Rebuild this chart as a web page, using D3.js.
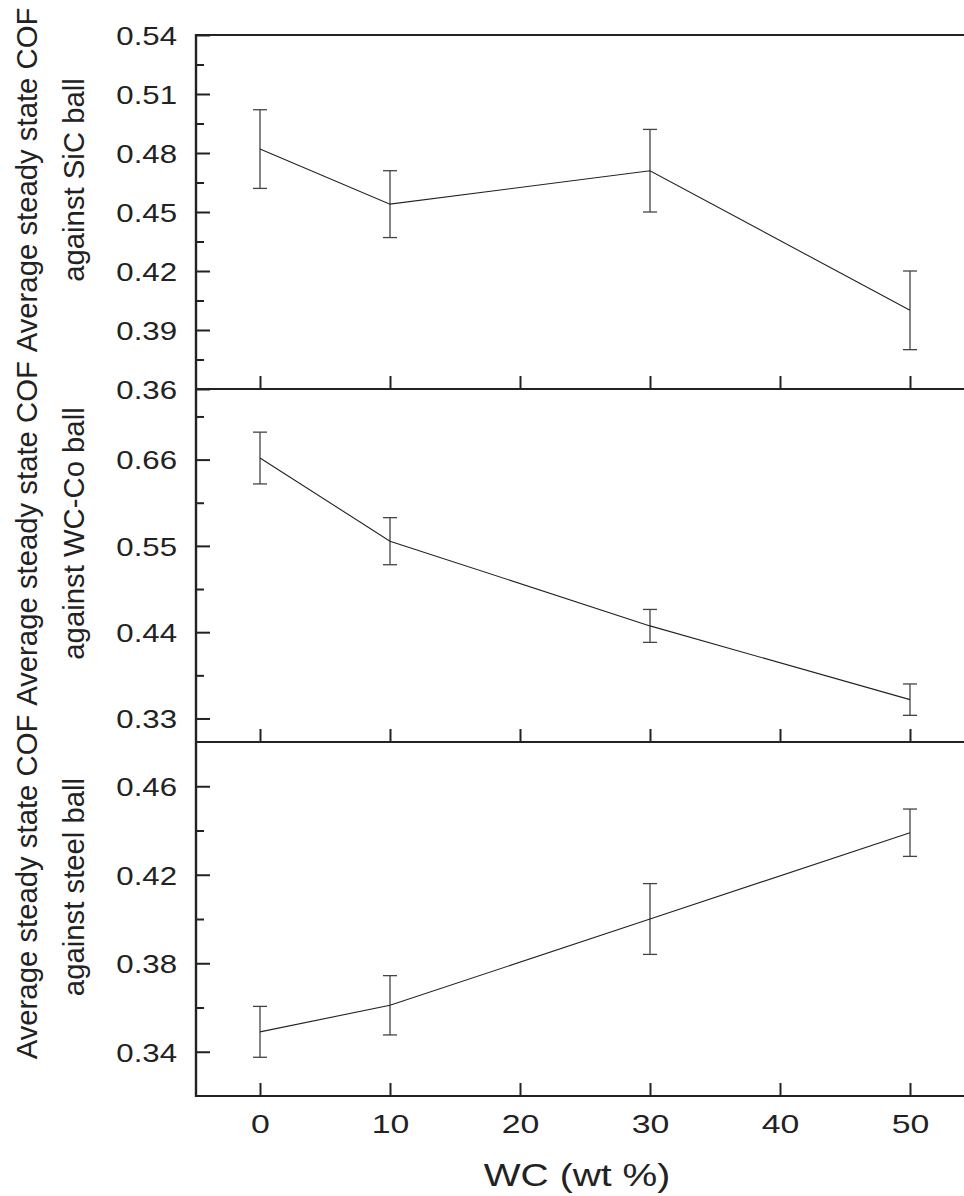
<!DOCTYPE html>
<html>
<head>
<meta charset="utf-8">
<script src="https://cdn.jsdelivr.net/npm/d3@7"></script>
<style>
  html, body { margin: 0; padding: 0; background: #ffffff; }
  svg { display: block; }
  text { font-family: "Liberation Sans", Arial, Helvetica, sans-serif; fill: #222; }
</style>
</head>
<body>
<script>
// WC content of the coatings (wt %)
const wcContent = [0, 10, 30, 50];
const xTickValues = [0, 10, 20, 30, 40, 50];

// Average steady state COF and its scatter for each counterface ball
const cofSiC = [0.482, 0.454, 0.471, 0.400];
const errSiC = [0.020, 0.017, 0.021, 0.020];

const cofWCCo = [0.662, 0.556, 0.448, 0.354];
const errWCCo = [0.033, 0.030, 0.021, 0.020];

const cofSteel = [0.349, 0.361, 0.400, 0.439];
const errSteel = [0.0115, 0.0134, 0.016, 0.0107];

// Y-axis domains, labelled ticks and minor ticks of each panel
const domainSiC = [0.36, 0.54];
const ticksSiC = [0.36, 0.39, 0.42, 0.45, 0.48, 0.51, 0.54];
const minorSiC = [0.375, 0.405, 0.435, 0.465, 0.495, 0.525];

const domainWCCo = [0.30, 0.75];
const ticksWCCo = [0.33, 0.44, 0.55, 0.66];
const minorWCCo = [0.385, 0.495, 0.605, 0.715];

const domainSteel = [0.32, 0.48];
const ticksSteel = [0.34, 0.38, 0.42, 0.46];
const minorSteel = [0.36, 0.40, 0.44];

const titleLine1 = "Average steady state COF";
const labelSiC = "against SiC ball";
const labelWCCo = "against WC-Co ball";
const labelSteel = "against steel ball";
const xTitle = "WC (wt %)";

const W = 964, H = 1196;
const left = 195, right = 975;
const panelEdges = [35, 389, 742, 1096];

const panels = [
  { values: cofSiC, errors: errSiC, domain: domainSiC, ticks: ticksSiC, minor: minorSiC, label: labelSiC, top: panelEdges[0], bottom: panelEdges[1] },
  { values: cofWCCo, errors: errWCCo, domain: domainWCCo, ticks: ticksWCCo, minor: minorWCCo, label: labelWCCo, top: panelEdges[1], bottom: panelEdges[2] },
  { values: cofSteel, errors: errSteel, domain: domainSteel, ticks: ticksSteel, minor: minorSteel, label: labelSteel, top: panelEdges[2], bottom: panelEdges[3] }
];

const svg = d3.select("body").append("svg")
  .attr("width", W).attr("height", H)
  .attr("viewBox", `0 0 ${W} ${H}`);

svg.append("rect").attr("width", W).attr("height", H).attr("fill", "#fff");

const x = d3.scaleLinear().domain([-5, 55]).range([left, right]);

const tickLabelStretch = 1.2;
const xLabelStretch = 1.3;

panels.forEach((p, i) => {
  const y = d3.scaleLinear().domain(p.domain).range([p.bottom, p.top]);
  const g = svg.append("g");
  const isLast = i === panels.length - 1;

  // minor y ticks
  const minorAxis = g.append("g")
    .attr("transform", `translate(${left + 1},0)`)
    .call(d3.axisLeft(y).tickValues(p.minor).tickSizeInner(-8).tickSizeOuter(0).tickFormat(""));
  minorAxis.select(".domain").remove();
  minorAxis.selectAll("line").attr("stroke", "#222").attr("stroke-width", 2);

  // major y ticks with labels
  const yAxis = g.append("g")
    .attr("transform", `translate(${left + 1},0)`)
    .call(d3.axisLeft(y).tickValues(p.ticks).tickSizeInner(-14).tickSizeOuter(0)
      .tickPadding(19).tickFormat(d3.format(".2f")));
  yAxis.select(".domain").remove();
  yAxis.selectAll("line").attr("stroke", "#222").attr("stroke-width", 2);
  yAxis.selectAll("text")
    .attr("font-size", 26)
    .attr("fill", "#222")
    .attr("font-family", null)
    .attr("dy", "0.36em")
    .attr("x", -19 / tickLabelStretch)
    .attr("transform", `scale(${tickLabelStretch},1)`);

  // x ticks along the bottom edge of each panel
  const xAxis = g.append("g")
    .attr("transform", `translate(0,${p.bottom})`)
    .call(d3.axisBottom(x).tickValues(xTickValues).tickSizeInner(-13).tickSizeOuter(0)
      .tickPadding(0).tickFormat(isLast ? d3.format("d") : () => ""));
  xAxis.select(".domain").remove();
  xAxis.selectAll("line").attr("stroke", "#222").attr("stroke-width", 2);
  xAxis.selectAll("text")
    .attr("font-size", 26)
    .attr("fill", "#222")
    .attr("font-family", null)
    .attr("y", 37)
    .attr("dy", 0)
    .attr("transform", `scale(${xLabelStretch},1)`);

  // bottom frame line of the panel
  g.append("line")
    .attr("x1", left).attr("x2", W + 20)
    .attr("y1", p.bottom).attr("y2", p.bottom)
    .attr("stroke", "#222").attr("stroke-width", 2.2);

  // error bars
  const capHalf = 7;
  const bars = g.append("g").selectAll("g")
    .data(wcContent.map((w, k) => ({ w, v: p.values[k], e: p.errors[k] })))
    .join("g");
  bars.append("line")
    .attr("x1", d => x(d.w)).attr("x2", d => x(d.w))
    .attr("y1", d => y(d.v + d.e)).attr("y2", d => y(d.v - d.e))
    .attr("stroke", "#444").attr("stroke-width", 1.3);
  bars.append("line")
    .attr("x1", d => x(d.w) - capHalf).attr("x2", d => x(d.w) + capHalf)
    .attr("y1", d => y(d.v + d.e)).attr("y2", d => y(d.v + d.e))
    .attr("stroke", "#444").attr("stroke-width", 1.3);
  bars.append("line")
    .attr("x1", d => x(d.w) - capHalf).attr("x2", d => x(d.w) + capHalf)
    .attr("y1", d => y(d.v - d.e)).attr("y2", d => y(d.v - d.e))
    .attr("stroke", "#444").attr("stroke-width", 1.3);

  // mean COF line
  g.append("path")
    .datum(wcContent.map((w, k) => [w, p.values[k]]))
    .attr("fill", "none")
    .attr("stroke", "#222")
    .attr("stroke-width", 1.1)
    .attr("d", d3.line().x(d => x(d[0])).y(d => y(d[1])));

  // two-line rotated y title
  const cy = (p.top + p.bottom) / 2 - 32;
  g.append("text")
    .attr("transform", `translate(37,${cy}) rotate(-90)`)
    .attr("text-anchor", "middle")
    .attr("font-size", 29.3)
    .text(titleLine1);
  g.append("text")
    .attr("transform", `translate(84,${cy}) rotate(-90)`)
    .attr("text-anchor", "middle")
    .attr("font-size", 29.3)
    .text(p.label);
});

// top frame line and left axis line
svg.append("line")
  .attr("x1", left).attr("x2", W + 20)
  .attr("y1", panelEdges[0]).attr("y2", panelEdges[0])
  .attr("stroke", "#222").attr("stroke-width", 2.2);
svg.append("line")
  .attr("x1", left + 1).attr("x2", left + 1)
  .attr("y1", panelEdges[0] - 1).attr("y2", panelEdges[3] + 1)
  .attr("stroke", "#222").attr("stroke-width", 2.4);

// x-axis title
svg.append("text")
  .attr("transform", `translate(577,1186) scale(1.22,1)`)
  .attr("text-anchor", "middle")
  .attr("font-size", 32)
  .text(xTitle);
</script>
</body>
</html>
